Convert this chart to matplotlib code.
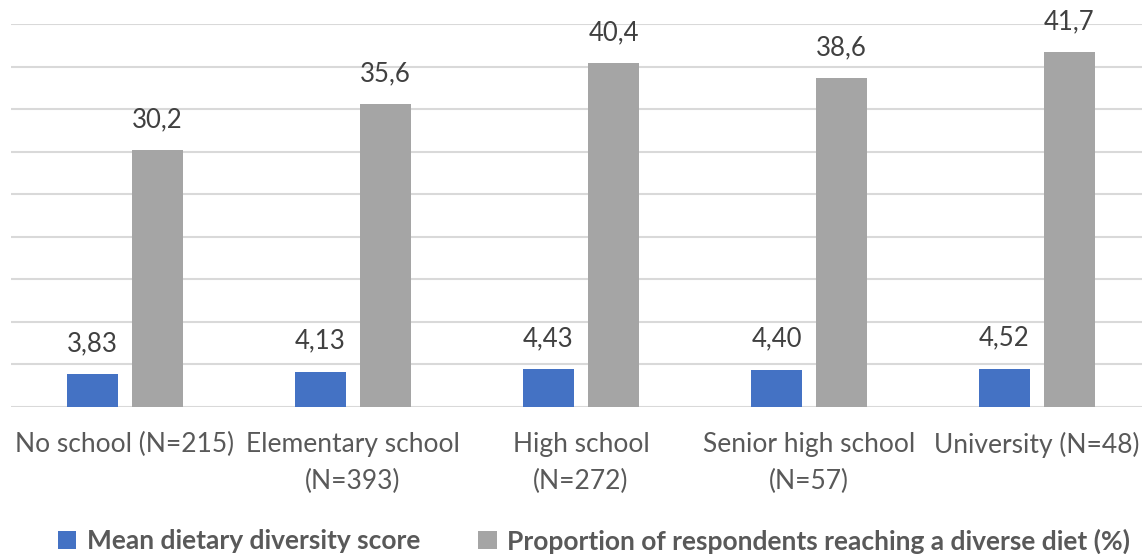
import numpy as np
import matplotlib.pyplot as plt

# ----------------------------------------------------
# Data
# ----------------------------------------------------

categories = [
    "No school (N=215)",
    "Elementary school\n(N=393)",
    "High school\n(N=272)",
    "Senior high school\n(N=57)",
    "University (N=48)",
]

mean_dds = [3.83, 4.13, 4.43, 4.40, 4.52]
diverse_pct = [30.2, 35.6, 40.4, 38.6, 41.7]

series_names = [
    "Mean dietary diversity score",
    "Proportion of respondents reaching a diverse diet (%)",
]

# ----------------------------------------------------
# Style
# ----------------------------------------------------

plt.rcParams["font.family"] = ["Lato", "DejaVu Sans"]

BLUE = "#4472C4"
GREY = "#A5A5A5"
GRID = "#D9D9D9"
TEXT = "#404040"
LABEL = "#595959"

fig = plt.figure(figsize=(11.42, 5.54), dpi=100)
ax = fig.add_axes([11 / 1142, 1 - 407 / 554, 1140 / 1142, (407 - 24) / 554])

x = np.arange(len(categories))
width = 0.224
offset = 0.1425

bars1 = ax.bar(x - offset, mean_dds, width, color=BLUE, zorder=3,
               label=series_names[0])
bars2 = ax.bar(x + offset, diverse_pct, width, color=GREY, zorder=3,
               label=series_names[1])

# value labels with comma decimals
for rect, v in zip(bars1, mean_dds):
    ax.annotate(f"{v:.2f}".replace(".", ","),
                (rect.get_x() + rect.get_width() / 2, v),
                xytext=(0, 13), textcoords="offset points",
                ha="center", va="bottom", fontsize=18.5, color=TEXT)

for rect, v in zip(bars2, diverse_pct):
    ax.annotate(f"{v:.1f}".replace(".", ","),
                (rect.get_x() + rect.get_width() / 2, v),
                xytext=(0, 13), textcoords="offset points",
                ha="center", va="bottom", fontsize=18.5, color=TEXT)

# ----------------------------------------------------
# Axes
# ----------------------------------------------------

ax.set_xlim(-0.5, len(categories) - 0.5)
ax.set_ylim(0, 45)
ax.set_yticks(np.arange(0, 46, 5))
ax.yaxis.grid(True, color=GRID, linewidth=1.5, zorder=0)
ax.tick_params(axis="y", left=False, labelleft=False)
ax.tick_params(axis="x", length=0, pad=18)
ax.set_xticks(x)
ax.set_xticklabels(categories, fontsize=19, color=LABEL, linespacing=1.6)

for side in ["top", "right", "left", "bottom"]:
    ax.spines[side].set_visible(False)

# ----------------------------------------------------
# Legend
# ----------------------------------------------------

leg = fig.legend(
    handles=[bars1, bars2],
    labels=series_names,
    loc="center",
    bbox_to_anchor=(594 / 1142, 1 - 541 / 554),
    ncol=2,
    frameon=False,
    prop={"weight": "bold", "size": 19},
    handlelength=0.7,
    handleheight=0.7,
    handletextpad=0.4,
    columnspacing=2.2,
)
for t in leg.get_texts():
    t.set_color(LABEL)

plt.savefig("out.png", dpi=100)
plt.close()
